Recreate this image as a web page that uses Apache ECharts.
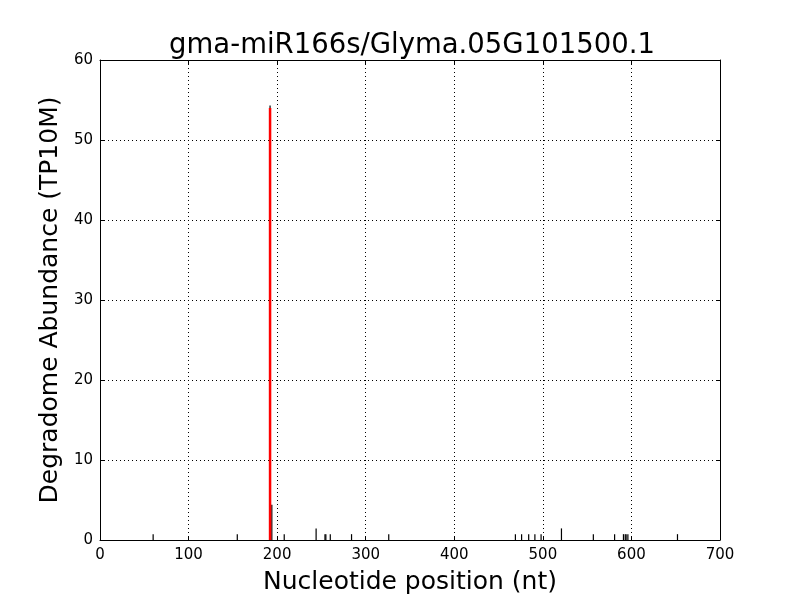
<!DOCTYPE html>
<html>
<head>
<meta charset="utf-8">
<script src="https://cdn.jsdelivr.net/npm/echarts@6/dist/echarts.min.js"></script>
<style>html,body{margin:0;padding:0;background:#fff}#c{width:800px;height:600px}</style>
</head>
<body>
<div id="c"></div>
<script>
const titleText = "gma-miR166s/Glyma.05G101500.1";
const xLabel = "Nucleotide position (nt)";
const yLabel = "Degradome Abundance (TP10M)";
const positions = [60, 155, 192, 194, 208, 244, 254, 255, 260, 284, 326, 469, 476, 484, 491, 498, 521, 557, 581, 591, 593, 594, 596, 652];
const abundance = [0.73, 0.73, 54.3, 4.4, 0.73, 1.45, 0.73, 0.73, 0.73, 0.73, 0.73, 0.73, 0.73, 0.73, 0.73, 0.73, 1.45, 0.73, 0.73, 0.73, 0.73, 0.73, 0.73, 0.73];
const sitePosition = [192];
const siteAbundance = [54.0];
const xTicks = [0, 100, 200, 300, 400, 500, 600, 700];
const yTicks = [0, 10, 20, 30, 40, 50, 60];

const chart = echarts.init(document.getElementById('c'), null, {renderer: 'canvas'});
const font = 'DejaVu Sans';
function stem(color, width) {
  return function (params, api) {
    const top = api.coord([api.value(0), api.value(1)]);
    const bot = api.coord([api.value(0), 0]);
    return {
      type: 'line',
      shape: {x1: top[0], y1: top[1], x2: bot[0], y2: bot[1]},
      style: {stroke: color, lineWidth: width}
    };
  };
}
const mainData = positions.map((p, i) => [p, abundance[i]]);
const siteData = sitePosition.map((p, i) => [p, siteAbundance[i]]);
const tickFmt = v => String(v);
chart.setOption({
  animation: false,
  backgroundColor: '#fff',
  title: {
    text: titleText, left: 407, top: 27, textAlign: 'center',
    textStyle: {fontFamily: font, fontSize: 27.5, fontWeight: 'normal', color: '#000'}
  },
  grid: {left: 100, right: 80, top: 60, bottom: 60, containLabel: false},
  xAxis: [{
    type: 'value', min: xTicks[0], max: xTicks[xTicks.length - 1], interval: 100,
    name: xLabel, nameLocation: 'middle', nameGap: 30,
    nameTextStyle: {fontFamily: font, fontSize: 25, color: '#000'},
    axisLine: {show: true, onZero: false, lineStyle: {color: '#000', width: 1}},
    axisTick: {show: true, inside: true, length: 4, lineStyle: {color: '#000'}},
    axisLabel: {fontFamily: font, fontSize: 15, color: '#000', margin: 8, formatter: tickFmt},
    splitLine: {show: true, lineStyle: {color: '#000', width: 1, type: [1, 3]}}
  }, {
    type: 'value', position: 'top', min: xTicks[0], max: xTicks[xTicks.length - 1], interval: 100,
    axisLine: {show: true, onZero: false, lineStyle: {color: '#000', width: 1}},
    axisTick: {show: true, inside: true, length: 4, lineStyle: {color: '#000'}},
    axisLabel: {show: false}, splitLine: {show: false}
  }],
  yAxis: [{
    type: 'value', min: yTicks[0], max: yTicks[yTicks.length - 1], interval: 10,
    name: yLabel, nameLocation: 'middle', nameGap: 34,
    nameTextStyle: {fontFamily: font, fontSize: 25, color: '#000'},
    axisLine: {show: true, onZero: false, lineStyle: {color: '#000', width: 1}},
    axisTick: {show: true, inside: true, length: 4, lineStyle: {color: '#000'}},
    axisLabel: {fontFamily: font, fontSize: 15, color: '#000', margin: 7, formatter: tickFmt},
    splitLine: {show: true, lineStyle: {color: '#000', width: 1, type: [1, 3]}}
  }, {
    type: 'value', position: 'right', min: yTicks[0], max: yTicks[yTicks.length - 1], interval: 10,
    axisLine: {show: true, onZero: false, lineStyle: {color: '#000', width: 1}},
    axisTick: {show: true, inside: true, length: 4, lineStyle: {color: '#000'}},
    axisLabel: {show: false}, splitLine: {show: false}
  }],
  series: [{
    type: 'custom', xAxisIndex: 0, yAxisIndex: 0, data: mainData,
    renderItem: stem('#000', 1.2), z: 3
  }, {
    type: 'custom', xAxisIndex: 0, yAxisIndex: 0, data: siteData,
    renderItem: stem('#ff0000', 2.5), z: 4
  }]
});
</script>
</body>
</html>
